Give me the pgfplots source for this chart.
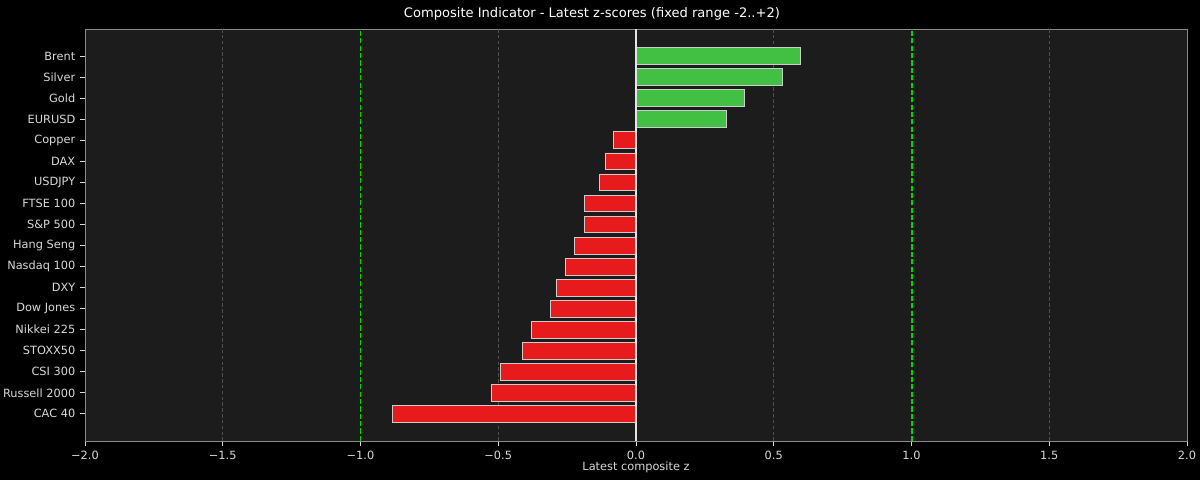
\documentclass[border=0pt]{standalone}
\usepackage{pgfplots}
\pgfplotsset{compat=1.18}
\usepackage{fontspec}
\setmainfont{DejaVu Sans}
\definecolor{axbg}{HTML}{1C1C1C}
\definecolor{txt}{HTML}{D8D8D8}
\definecolor{posbar}{HTML}{42C043}
\definecolor{negbar}{HTML}{E81B1C}
\definecolor{gridc}{HTML}{505050}
\definecolor{spine}{HTML}{8A8A8A}
\definecolor{refline}{RGB}{0,215,0}
\tikzset{
  gridline/.style={draw=gridc, dash pattern=on 2.6bp off 1.6bp, line width=0.6bp},
}

% latest composite z per market (index 0 = bottom)
\pgfplotstableread{
idx z
14 0.327
15 0.392
16 0.532
17 0.595
}\positive
\pgfplotstableread{
idx z
0 -0.884
1 -0.523
2 -0.493
3 -0.411
4 -0.381
5 -0.312
6 -0.289
7 -0.255
8 -0.223
9 -0.187
10 -0.186
11 -0.132
12 -0.112
13 -0.082
}\negative

\begin{document}
\begin{tikzpicture}
\path[use as bounding box, fill=black] (-61.2bp,-28.08bp) rectangle (802.8bp,317.52bp);
\begin{axis}[
  at={(0,0)}, anchor=south west,
  scale only axis, width=793.44bp, height=296.64bp,
  xmin=-2, xmax=2, ymin=-1.29, ymax=18.29,
  axis background/.style={fill=axbg},
  axis line style={draw=spine, line width=0.6bp},
  xtick={-2,-1.5,-1,-0.5,0,0.5,1,1.5,2},
  xticklabels={−2.0,−1.5,−1.0,−0.5,0.0,0.5,1.0,1.5,2.0},
  ytick={0,1,2,3,4,5,6,7,8,9,10,11,12,13,14,15,16,17},
  yticklabels={CAC 40,Russell 2000,CSI 300,STOXX50,Nikkei 225,Dow Jones,DXY,Nasdaq 100,Hang Seng,S\&P 500,FTSE 100,USDJPY,DAX,Copper,EURUSD,Gold,Silver,Brent},
  tick align=outside, major tick length=3.5bp,
  tick style={draw=txt, line width=0.6bp},
  xtick pos=bottom, ytick pos=left,
  ticklabel style={font=\fontsize{8.2}{10}\selectfont, text=txt},
  xlabel={Latest composite z},
  xlabel style={at={(axis description cs:0.5,0)}, anchor=center, yshift=-18.7bp,
    font=\fontsize{8.2}{10}\selectfont, text=txt},
]
\draw[gridline] (axis cs:-1.5,-1.29) -- (axis cs:-1.5,18.29);
\draw[gridline] (axis cs:-0.5,-1.29) -- (axis cs:-0.5,18.29);
\draw[gridline] (axis cs:0.5,-1.29) -- (axis cs:0.5,18.29);
\draw[gridline] (axis cs:1.5,-1.29) -- (axis cs:1.5,18.29);
\addplot[xbar, bar width=0.8, bar shift=0pt, draw=white!80!black, line width=0.6bp, fill=posbar] table[x=z, y=idx] {\positive};
\addplot[xbar, bar width=0.8, bar shift=0pt, draw=white!80!black, line width=0.6bp, fill=negbar] table[x=z, y=idx] {\negative};
\addplot[draw=white!90!black, line width=0.8bp, mark=none] coordinates {(0,-1.29) (0,18.29)};
\addplot[color=refline, line width=1.4bp, dash pattern=on 3.7bp off 1.6bp, mark=none] coordinates {(-1,-1.29) (-1,18.29)};
\addplot[color=refline, line width=1.4bp, dash pattern=on 3.7bp off 1.6bp, mark=none] coordinates {(1.002,-1.29) (1.002,18.29)};
\end{axis}
\node[text=white, font=\fontsize{9.45}{12}\selectfont, anchor=center] at (365bp,307.4bp)
  {Composite Indicator - Latest z-scores (fixed range -2..+2)};
\end{tikzpicture}
\end{document}
